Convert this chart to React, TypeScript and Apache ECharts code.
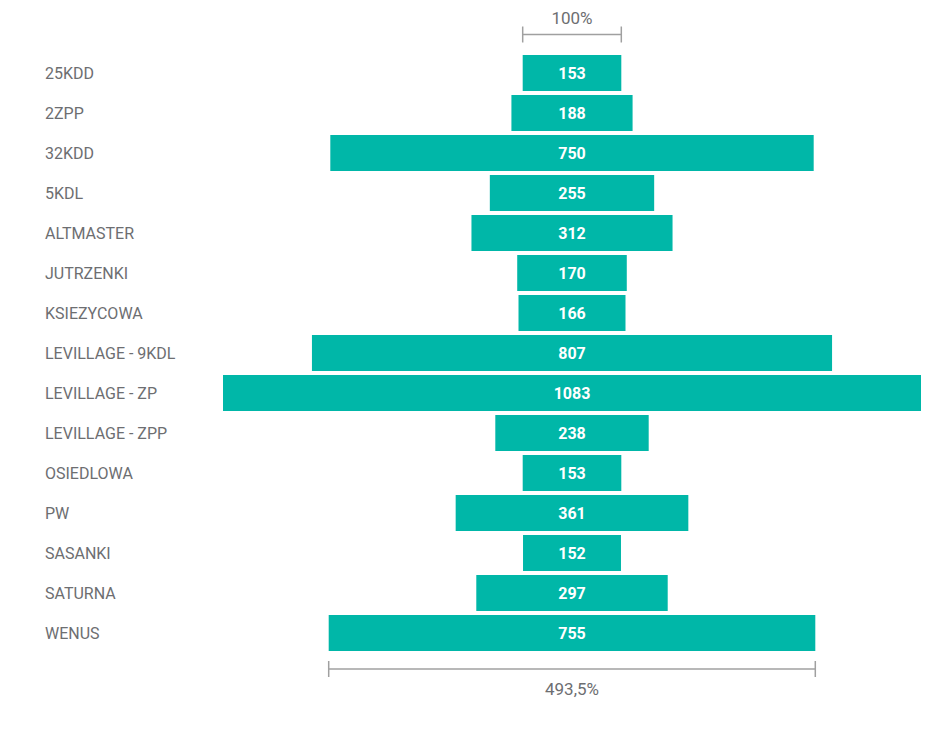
import React, { useEffect, useRef } from "react";
import * as echarts from "echarts";

const categories = [
  "25KDD",
  "2ZPP",
  "32KDD",
  "5KDL",
  "ALTMASTER",
  "JUTRZENKI",
  "KSIEZYCOWA",
  "LEVILLAGE - 9KDL",
  "LEVILLAGE - ZP",
  "LEVILLAGE - ZPP",
  "OSIEDLOWA",
  "PW",
  "SASANKI",
  "SATURNA",
  "WENUS",
];
const values = [153, 188, 750, 255, 312, 170, 166, 807, 1083, 238, 153, 361, 152, 297, 755];
const topBracketLabel = "100%";
const bottomBracketLabel = "493,5%";

const TEAL = "#00b7a8";
const GRAY_TEXT = "#6d6e71";
const GRAY_LINE = "#a0a0a0";
const FONT = "Roboto, sans-serif";

export default function App() {
  const ref = useRef<HTMLDivElement>(null);
  useEffect(() => {
    document.body.style.margin = "0";
    if (!ref.current) return;
    const chart = echarts.init(ref.current, undefined, { renderer: "svg" });
    const maxV = Math.max(...values);
    const offsets = values.map((v) => (maxV - v) / 2);
    chart.setOption({
      animation: false,
      grid: { left: 223, right: 14, top: 53, height: 600, containLabel: false },
      xAxis: {
        type: "value",
        min: 0,
        max: maxV,
        show: false,
      },
      yAxis: {
        type: "category",
        data: categories,
        inverse: true,
        axisLine: { show: false },
        axisTick: { show: false },
        axisLabel: {
          align: "left",
          margin: 178,
          color: GRAY_TEXT,
          fontSize: 16,
          fontFamily: FONT,
        },
      },
      series: [
        {
          type: "bar",
          stack: "s",
          data: offsets,
          itemStyle: { color: "transparent" },
          barWidth: 36,
          silent: true,
        },
        {
          type: "bar",
          stack: "s",
          data: values,
          barWidth: 36,
          itemStyle: { color: TEAL },
          label: {
            show: true,
            position: "inside",
            color: "#ffffff",
            fontWeight: "bold",
            fontSize: 16,
            fontFamily: FONT,
          },
        },
      ],
    });

    // Brackets computed from the axes
    const first = 0;
    const last = values.length - 1;
    const x1a = chart.convertToPixel({ xAxisIndex: 0 }, offsets[first]) as number;
    const x1b = chart.convertToPixel({ xAxisIndex: 0 }, offsets[first] + values[first]) as number;
    const x2a = chart.convertToPixel({ xAxisIndex: 0 }, offsets[last]) as number;
    const x2b = chart.convertToPixel({ xAxisIndex: 0 }, offsets[last] + values[last]) as number;
    const yFirst = chart.convertToPixel({ yAxisIndex: 0 }, categories[first]) as number;
    const yLast = chart.convertToPixel({ yAxisIndex: 0 }, categories[last]) as number;
    const yTop = yFirst - 38.5;
    const yBot = yLast + 36;
    const lineStyle = { stroke: GRAY_LINE, lineWidth: 1.5 };
    const bracket = (xa: number, xb: number, y: number) => [
      { type: "line", shape: { x1: xa, y1: y, x2: xb, y2: y }, style: lineStyle, silent: true },
      { type: "line", shape: { x1: xa, y1: y - 8, x2: xa, y2: y + 8 }, style: lineStyle, silent: true },
      { type: "line", shape: { x1: xb, y1: y - 8, x2: xb, y2: y + 8 }, style: lineStyle, silent: true },
    ];
    const textStyle = (text: string) => ({
      text,
      fill: GRAY_TEXT,
      fontSize: 17,
      fontFamily: FONT,
      align: "center",
      verticalAlign: "middle",
    });
    chart.setOption({
      graphic: [
        ...bracket(x1a, x1b, yTop),
        { type: "text", x: (x1a + x1b) / 2, y: yTop - 17, style: textStyle(topBracketLabel), silent: true },
        ...bracket(x2a, x2b, yBot),
        { type: "text", x: (x2a + x2b) / 2, y: yBot + 20, style: textStyle(bottomBracketLabel), silent: true },
      ],
    });
    return () => chart.dispose();
  }, []);
  return <div ref={ref} style={{ width: 935, height: 754 }} />;
}
